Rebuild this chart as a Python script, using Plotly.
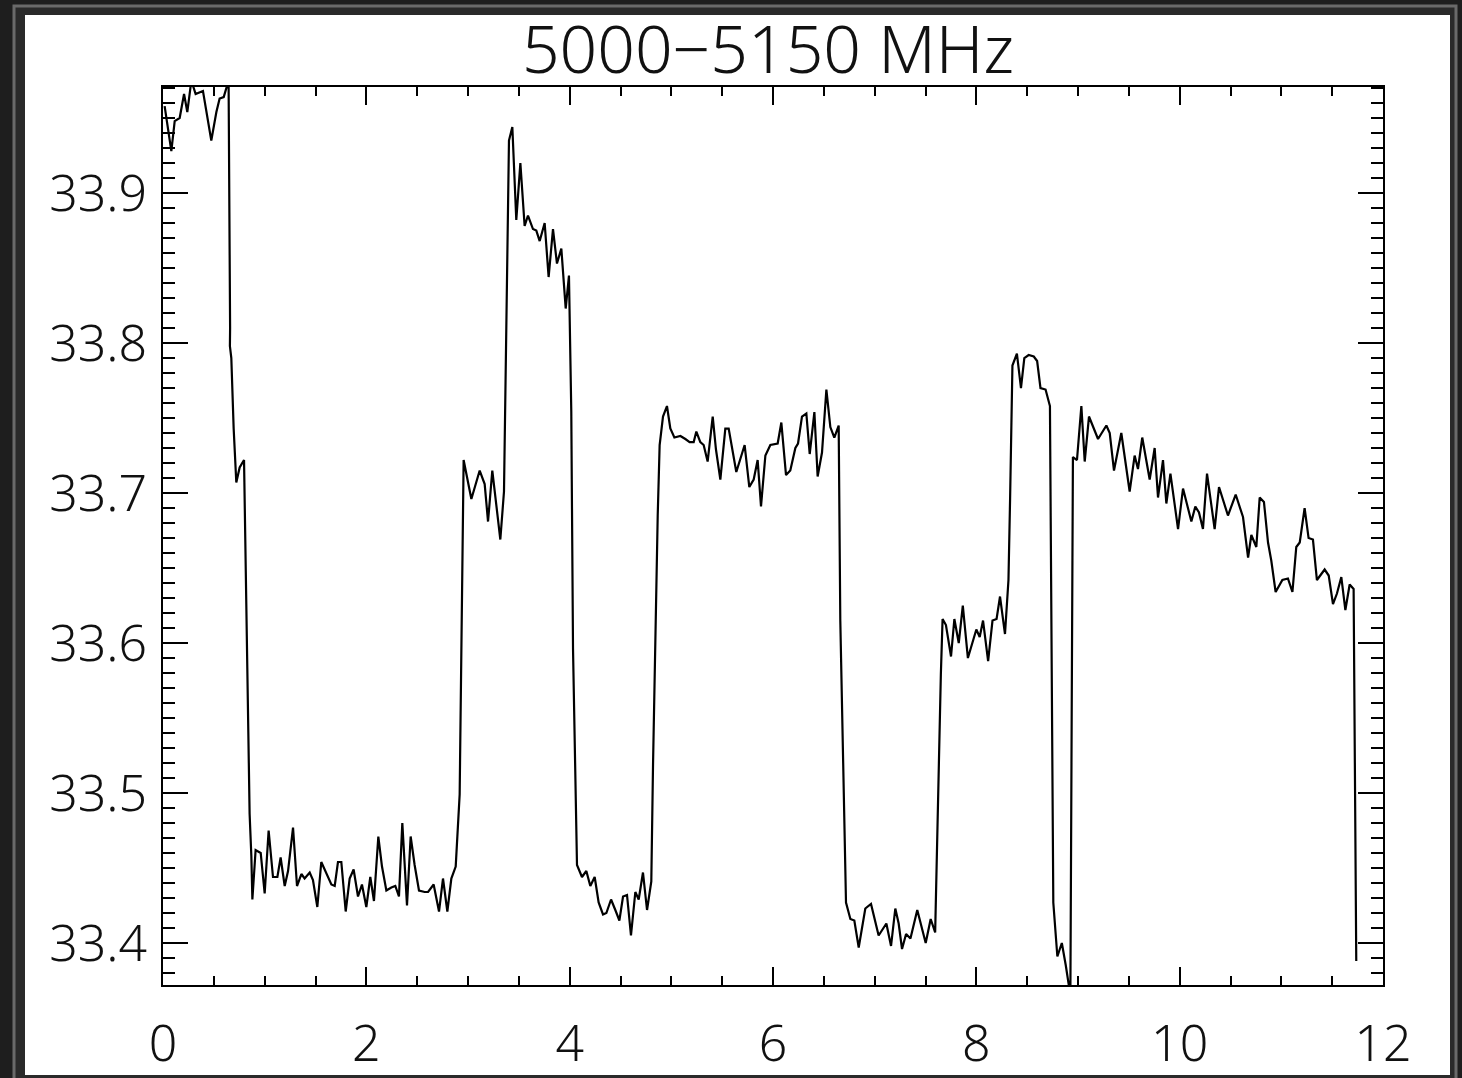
"""
Recreates the 5000-5150 MHz trace plot with its dark frame.
"""
import plotly.graph_objects as go

# trace (x in plot units, y in plot units)
x_vals = [
    0.016, 0.082, 0.115, 0.164, 0.207, 0.239, 0.279, 0.321, 0.393, 0.475,
    0.525, 0.557, 0.597, 0.645, 0.660, 0.658, 0.672, 0.695, 0.721, 0.754,
    0.797, 0.826, 0.852, 0.869, 0.879, 0.911, 0.961, 1.000, 1.039, 1.082,
    1.125, 1.157, 1.197, 1.230, 1.279, 1.318, 1.361, 1.393, 1.443, 1.475,
    1.518, 1.557, 1.607, 1.656, 1.689, 1.721, 1.754, 1.797, 1.836, 1.875,
    1.918, 1.957, 2.000, 2.039, 2.075, 2.118, 2.154, 2.197, 2.246, 2.285,
    2.321, 2.354, 2.400, 2.436, 2.475, 2.518, 2.574, 2.607, 2.662, 2.715,
    2.754, 2.797, 2.836, 2.879, 2.918, 2.934, 2.944, 2.957, 3.033, 3.115,
    3.164, 3.197, 3.239, 3.318, 3.354, 3.377, 3.393, 3.403, 3.436, 3.459,
    3.475, 3.515, 3.557, 3.590, 3.639, 3.672, 3.705, 3.754, 3.793, 3.836,
    3.875, 3.918, 3.961, 3.993, 4.016, 4.033, 4.072, 4.121, 4.164, 4.203,
    4.246, 4.285, 4.328, 4.361, 4.407, 4.449, 4.489, 4.525, 4.564, 4.603,
    4.646, 4.679, 4.721, 4.761, 4.803, 4.820, 4.843, 4.866, 4.885, 4.918,
    4.957, 4.990, 5.030, 5.089, 5.138, 5.180, 5.220, 5.246, 5.285, 5.318,
    5.357, 5.407, 5.439, 5.482, 5.531, 5.564, 5.639, 5.721, 5.767, 5.810,
    5.849, 5.882, 5.925, 5.974, 6.046, 6.082, 6.128, 6.170, 6.220, 6.246,
    6.285, 6.328, 6.361, 6.407, 6.439, 6.482, 6.525, 6.564, 6.603, 6.646,
    6.662, 6.689, 6.718, 6.761, 6.800, 6.843, 6.908, 6.964, 7.039, 7.115,
    7.161, 7.203, 7.236, 7.269, 7.309, 7.352, 7.419, 7.502, 7.551, 7.595,
    7.628, 7.651, 7.668, 7.701, 7.751, 7.784, 7.827, 7.867, 7.917, 8.000,
    8.033, 8.066, 8.116, 8.159, 8.199, 8.233, 8.282, 8.316, 8.332, 8.355,
    8.399, 8.439, 8.472, 8.515, 8.565, 8.598, 8.631, 8.681, 8.724, 8.757,
    8.797, 8.841, 8.880, 8.925, 8.950, 8.990, 9.033, 9.066, 9.108, 9.197,
    9.279, 9.312, 9.354, 9.426, 9.508, 9.557, 9.590, 9.632, 9.705, 9.754,
    9.787, 9.836, 9.869, 9.909, 9.984, 10.033, 10.115, 10.154, 10.190,
    10.229, 10.269, 10.344, 10.387, 10.475, 10.551, 10.623, 10.673, 10.705,
    10.754, 10.787, 10.829, 10.869, 10.901, 10.944, 11.010, 11.065, 11.109,
    11.147, 11.181, 11.229, 11.268, 11.311, 11.350, 11.426, 11.466, 11.508,
    11.547, 11.590, 11.630, 11.672, 11.711, 11.721, 11.737,
]
y_vals = [
    33.958, 33.928, 33.948, 33.950, 33.966, 33.954, 33.975, 33.966, 33.968,
    33.935, 33.954, 33.963, 33.964, 33.975, 33.810, 33.798, 33.790, 33.743,
    33.707, 33.717, 33.722, 33.612, 33.486, 33.458, 33.429, 33.462, 33.460,
    33.433, 33.475, 33.444, 33.444, 33.457, 33.438, 33.448, 33.477, 33.438,
    33.446, 33.443, 33.447, 33.442, 33.424, 33.454, 33.446, 33.439, 33.438,
    33.454, 33.454, 33.421, 33.443, 33.449, 33.431, 33.439, 33.424, 33.444,
    33.428, 33.471, 33.451, 33.435, 33.437, 33.438, 33.431, 33.480, 33.425,
    33.471, 33.452, 33.435, 33.434, 33.434, 33.439, 33.421, 33.443, 33.421,
    33.443, 33.451, 33.499, 33.609, 33.669, 33.722, 33.696, 33.715, 33.706,
    33.681, 33.715, 33.669, 33.701, 33.830, 33.893, 33.935, 33.944, 33.912,
    33.882, 33.920, 33.878, 33.885, 33.876, 33.875, 33.868, 33.880, 33.844,
    33.876, 33.853, 33.863, 33.823, 33.845, 33.754, 33.596, 33.452, 33.444,
    33.448, 33.438, 33.444, 33.427, 33.419, 33.420, 33.429, 33.422, 33.415,
    33.431, 33.432, 33.405, 33.434, 33.429, 33.447, 33.422, 33.441, 33.519,
    33.615, 33.685, 33.732, 33.751, 33.758, 33.743, 33.737, 33.738, 33.736,
    33.734, 33.734, 33.741, 33.734, 33.732, 33.721, 33.751, 33.729, 33.709,
    33.743, 33.743, 33.714, 33.732, 33.704, 33.709, 33.722, 33.691, 33.725,
    33.732, 33.733, 33.747, 33.712, 33.715, 33.730, 33.733, 33.751, 33.753,
    33.726, 33.754, 33.711, 33.727, 33.769, 33.744, 33.737, 33.745, 33.615,
    33.519, 33.427, 33.416, 33.415, 33.397, 33.423, 33.426, 33.405, 33.413,
    33.398, 33.423, 33.413, 33.396, 33.406, 33.403, 33.422, 33.400, 33.416,
    33.407, 33.516, 33.579, 33.616, 33.612, 33.591, 33.616, 33.600, 33.625,
    33.590, 33.609, 33.604, 33.615, 33.588, 33.615, 33.616, 33.631, 33.606,
    33.642, 33.696, 33.785, 33.793, 33.770, 33.790, 33.792, 33.791, 33.788,
    33.770, 33.769, 33.758, 33.427, 33.391, 33.400, 33.385, 33.365, 33.724,
    33.722, 33.758, 33.721, 33.751, 33.736, 33.745, 33.740, 33.715, 33.740,
    33.701, 33.725, 33.716, 33.737, 33.709, 33.730, 33.697, 33.722, 33.693,
    33.713, 33.676, 33.703, 33.681, 33.691, 33.687, 33.676, 33.713, 33.676,
    33.704, 33.685, 33.699, 33.684, 33.657, 33.672, 33.664, 33.697, 33.694,
    33.667, 33.655, 33.634, 33.642, 33.643, 33.634, 33.664, 33.667, 33.690,
    33.670, 33.669, 33.642, 33.649, 33.645, 33.626, 33.633, 33.644, 33.622,
    33.639, 33.636, 33.516, 33.388,
]
x_ticks = [0, 2, 4, 6, 8, 10, 12]
y_ticks = [33.4, 33.5, 33.6, 33.7, 33.8, 33.9]
title_text = '5000\u22125150 MHz'

W, H = 1462, 1078
LEFT, RIGHT, TOP, BOTTOM = 163, 1383, 87, 985
FONT = 'Noto Sans'


def px_to_paper(px, py):
    """Converts page pixels to paper coordinates of the plot area."""
    return ((px - LEFT) / (RIGHT - LEFT), (BOTTOM - py) / (BOTTOM - TOP))


def frame_shapes():
    """Dark window frame and white panel behind the plot."""
    ox0, oy0 = px_to_paper(14, 6)
    ox1, oy1 = px_to_paper(1456, 1082)
    wx0, wy0 = px_to_paper(25, 15)
    wx1, wy1 = px_to_paper(1450, 1075)
    return [
        dict(type='rect', xref='paper', yref='paper', layer='below',
             x0=ox0, y0=oy1, x1=ox1, y1=oy0,
             line=dict(color='#6a6a6a', width=3), fillcolor='#2a2a2a'),
        dict(type='rect', xref='paper', yref='paper', layer='below',
             x0=wx0, y0=wy1, x1=wx1, y1=wy0,
             line=dict(width=0), fillcolor='white'),
    ]


fig = go.Figure()
fig.add_trace(go.Scatter(
    x=x_vals, y=y_vals, mode='lines',
    line=dict(color='black', width=2.2),
    showlegend=False, hoverinfo='skip'))

axis_common = dict(
    showline=True, linecolor='black', linewidth=2, mirror='allticks',
    ticks='inside', tickcolor='black', tickwidth=2,
    showgrid=False, zeroline=False, automargin=False,
    tickfont=dict(family=FONT, size=50, color='#111', weight=300),
)

fig.update_xaxes(
    range=[0, 12], tickvals=x_ticks, ticklen=18,
    ticklabelstandoff=14,
    minor=dict(dtick=0.5, ticklen=9, tickcolor='black', tickwidth=2,
               ticks='inside', showgrid=False),
    **axis_common)
fig.update_yaxes(
    range=[33.372, 33.9707], tickvals=y_ticks, tickformat='.1f', ticklen=25,
    ticklabelstandoff=4,
    minor=dict(dtick=0.01, ticklen=12, tickcolor='black', tickwidth=2,
               ticks='inside', showgrid=False),
    **axis_common)

fig.update_layout(
    width=W, height=H,
    margin=dict(l=LEFT, r=W - RIGHT, t=TOP, b=H - BOTTOM, pad=0),
    paper_bgcolor='#1e1e1e', plot_bgcolor='white',
    shapes=frame_shapes(),
    title=dict(text=title_text, x=(768 / W), xanchor='center',
               y=1 - 50 / H, yanchor='middle', yref='container',
               font=dict(family=FONT, size=66, color='#111', weight=300)),
)

# drop the page's default body margin so the figure sits at the window corner
fig.write_html(
    'out.html',
    config={'displayModeBar': False},
    post_script="document.body.style.margin='0';"
                "document.body.style.background='#1e1e1e';")
